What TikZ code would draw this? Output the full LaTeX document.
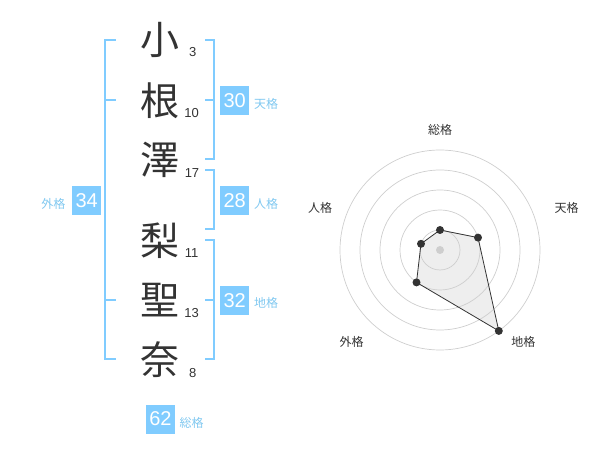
\documentclass[tikz,border=0pt]{standalone}
\usepackage{fontspec}
\setmainfont{Liberation Sans}
\newfontfamily\jpfont{Noto Sans CJK JP}

\definecolor{kakublue}{RGB}{128,204,255}
\definecolor{kakutext}{RGB}{128,200,240}
\definecolor{inkgray}{RGB}{51,51,51}
\definecolor{ringgray}{RGB}{206,206,206}
\definecolor{polyfill}{RGB}{238,238,238}

\tikzset{
    kanji/.style={font=\jpfont\fontsize{39}{39}\selectfont, text=inkgray, inner sep=0pt},
    kakusu/.style={font=\fontsize{13}{13}\selectfont, text=inkgray, inner sep=0pt},
    kakubox/.style={fill=kakublue, text=white, minimum size=29pt, inner sep=0pt, font=\fontsize{20}{20}\selectfont},
    kakuname/.style={font=\jpfont\fontsize{12}{12}\selectfont, text=kakutext, inner sep=0pt},
    bracket/.style={draw=kakublue, line width=2pt},
    ring/.style={draw=ringgray, line width=0.7pt},
    radarlabel/.style={font=\jpfont\fontsize{12}{12}\selectfont, text=inkgray, inner sep=0pt},
    radardot/.style={circle, fill=inkgray, inner sep=0pt, minimum size=8pt},
}

\begin{document}
\begin{tikzpicture}[x=1pt,y=-1pt]
        \useasboundingbox (0,0) rectangle (600,470);

        % name
        \node[kanji] (c1) at (160,40) {小};
        \node[kanji] (c2) at (160,101) {根};
        \node[kanji] (c3) at (160,160) {澤};
        \node[kanji] (c4) at (160,241) {梨};
        \node[kanji] (c5) at (160,300) {聖};
        \node[kanji] (c6) at (160,360) {奈};

        \node[kakusu] (n1) at (192.7,52.3) {3};
        \node[kakusu] (n2) at (191.7,112.7) {10};
        \node[kakusu] (n3) at (192,173) {17};
        \node[kakusu] (n4) at (191.7,253.3) {11};
        \node[kakusu] (n5) at (191.7,312.7) {13};
        \node[kakusu] (n6) at (192.7,373.3) {8};

        % brackets
        \draw[bracket] (115.7,40) -- (105,40) -- (105,359.3) -- (115.7,359.3);
        \draw[bracket] (105,100) -- (115.7,100);
        \draw[bracket] (105,300) -- (115.7,300);

        \draw[bracket] (205,40) -- (214.3,40) -- (214.3,159.3) -- (205,159.3);
        \draw[bracket] (205,100) -- (214.3,100);
        \draw[bracket] (205,170) -- (214.3,170) -- (214.3,229.3) -- (205,229.3);
        \draw[bracket] (205,240) -- (214.3,240) -- (214.3,359.3) -- (205,359.3);
        \draw[bracket] (205,300) -- (214.3,300);

        \node[kakubox] (ten) at (234.7,100.5) {30};
        \node[kakuname] (tenl) at (266,104) {天格};
        \node[kakubox] (jin) at (234.7,200.5) {28};
        \node[kakuname] (jinl) at (266,204) {人格};
        \node[kakubox] (chi) at (234.7,300.5) {32};
        \node[kakuname] (chil) at (266,303) {地格};
        \node[kakubox] (gai) at (86.7,200.5) {34};
        \node[kakuname] (gail) at (53.3,204) {外格};
        \node[kakubox] (sou) at (160.5,419) {62};
        \node[kakuname] (soul) at (191.7,422.7) {総格};

        % radar
        \coordinate (o) at (440,250);
        \coordinate (p1) at (440,230);
        \coordinate (p2) at (478.0,237.6);
        \coordinate (p3) at (498.8,330.9);
        \coordinate (p4) at (416.5,282.4);
        \coordinate (p5) at (421.0,243.8);

        \fill[polyfill] (p1) -- (p2) -- (p3) -- (p4) -- (p5) -- cycle;
        \draw[ring] (o) circle (20);
        \draw[ring] (o) circle (40);
        \draw[ring] (o) circle (60);
        \draw[ring] (o) circle (80);
        \draw[ring] (o) circle (100);
        \fill[ringgray] (o) circle (4);
        \draw[inkgray, line width=0.8pt] (p1) -- (p2) -- (p3) -- (p4) -- (p5) -- cycle;

        \node[radardot] (d1) at (p1) {};
        \node[radardot] (d2) at (p2) {};
        \node[radardot] (d3) at (p3) {};
        \node[radardot] (d4) at (p4) {};
        \node[radardot] (d5) at (p5) {};

        \node[radarlabel] (r1) at (440,130) {総格};
        \node[radarlabel] (r2) at (566.7,208) {天格};
        \node[radarlabel] (r3) at (523.3,342) {地格};
        \node[radarlabel] (r4) at (351.7,342) {外格};
        \node[radarlabel] (r5) at (320,208) {人格};
\end{tikzpicture}
\end{document}
